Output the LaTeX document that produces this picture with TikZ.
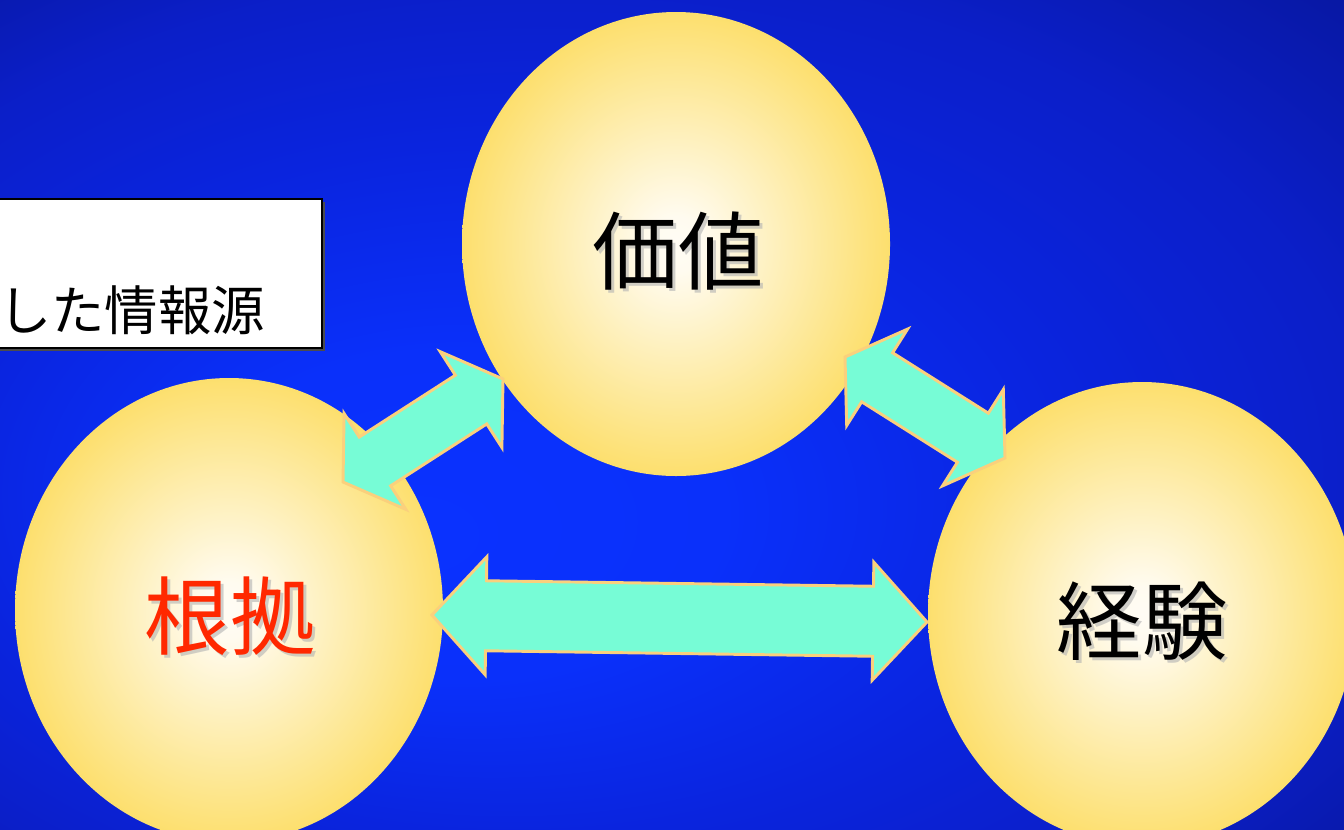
\documentclass[tikz,border=0pt]{standalone}
\usepackage{fontspec}
\setmainfont{Noto Sans CJK JP}
\usetikzlibrary{calc,shapes.geometric,shadows}
\pgfdeclareradialshading{bgshade}{\pgfpoint{-10bp}{-7.6bp}}{rgb(0bp)=(0.04,0.196,1); rgb(10bp)=(0.04,0.188,0.98); rgb(21bp)=(0.04,0.141,0.87); rgb(30bp)=(0.043,0.12,0.784); rgb(38bp)=(0.031,0.094,0.647); rgb(46bp)=(0.024,0.086,0.569); rgb(50bp)=(0.024,0.086,0.569)}
\pgfdeclareradialshading{ballshade}{\pgfpoint{0bp}{0bp}}{rgb(0bp)=(1,0.99,0.96); rgb(3bp)=(1,0.985,0.94); rgb(25bp)=(0.99,0.875,0.43); rgb(50bp)=(0.99,0.875,0.43)}
\definecolor{aqua}{RGB}{119,252,214}
\definecolor{arrline}{RGB}{250,208,125}
\definecolor{lblred}{RGB}{255,40,0}
\newcommand\dblarrow[5]{%
 \draw[arr] (#1)
 -- ($(#1)!#3!(#2)!#5!90:(#2)$)
 -- ($(#1)!#3!(#2)!#4!90:(#2)$)
 -- ($(#2)!#3!(#1)!#4!-90:(#1)$)
 -- ($(#2)!#3!(#1)!#5!-90:(#1)$)
 -- (#2)
 -- ($(#2)!#3!(#1)!#5!90:(#1)$)
 -- ($(#2)!#3!(#1)!#4!90:(#1)$)
 -- ($(#1)!#3!(#2)!#4!-90:(#2)$)
 -- ($(#1)!#3!(#2)!#5!-90:(#2)$)
 -- cycle;}
\begin{document}
\begin{tikzpicture}[x=0.75pt,y=-0.75pt,
 ball/.style={ellipse, shading=ballshade, draw=none, inner sep=0pt, outer sep=0pt, minimum width=321pt, minimum height=348pt},
 arr/.style={fill=aqua, draw=arrline, line width=2.2pt, line join=miter},
 lbl/.style={inner sep=0pt, font=\fontsize{64}{70}\selectfont},
 shadowlbl/.style={lbl, text=black!30, opacity=0.6},
 srcbox/.style={draw=black, line width=1.5pt, fill=white, inner sep=0pt, minimum width=248.25pt, minimum height=111.75pt, drop shadow={shadow xshift=2pt, shadow yshift=-2pt, fill=black!70, opacity=1}}]
\shade[shading=bgshade] (0,0) rectangle (1344,829);
\useasboundingbox (0,0) rectangle (1344,829);
% circles
\node[ball] (val) at (676,244) {};
\node[ball] (evi) at (229,610) {};
\node[ball] (exp) at (1142,614) {};
% arrow end points
\coordinate (e1) at (343,482);
\coordinate (v1) at (503,379);
\coordinate (v2) at (845,357);
\coordinate (x1) at (1005,458);
\coordinate (e2) at (432,615);
\coordinate (x2) at (927,622);
\dblarrow{e1}{v1}{28.5pt}{21.75pt}{42.75pt}
\dblarrow{v2}{x1}{28.5pt}{21.75pt}{42.75pt}
\dblarrow{e2}{x2}{40.5pt}{26.25pt}{44.25pt}
% labels
\node[shadowlbl] (valS) at (681,254) {価値};
\node[lbl] (valT) at (678,251) {価値};
\node[shadowlbl] (eviS) at (233,619) {根拠};
\node[lbl, text=lblred] (eviT) at (230,616) {根拠};
\node[shadowlbl] (expS) at (1145,624) {経験};
\node[lbl] (expT) at (1142,621) {経験};
% source box
\node[srcbox, anchor=north west] (box) at (-10,198) {};
\node[anchor=east, inner sep=0pt, font=\fontsize{40}{42}\selectfont] (src) at (265,310) {した情報源};
\end{tikzpicture}
\end{document}
